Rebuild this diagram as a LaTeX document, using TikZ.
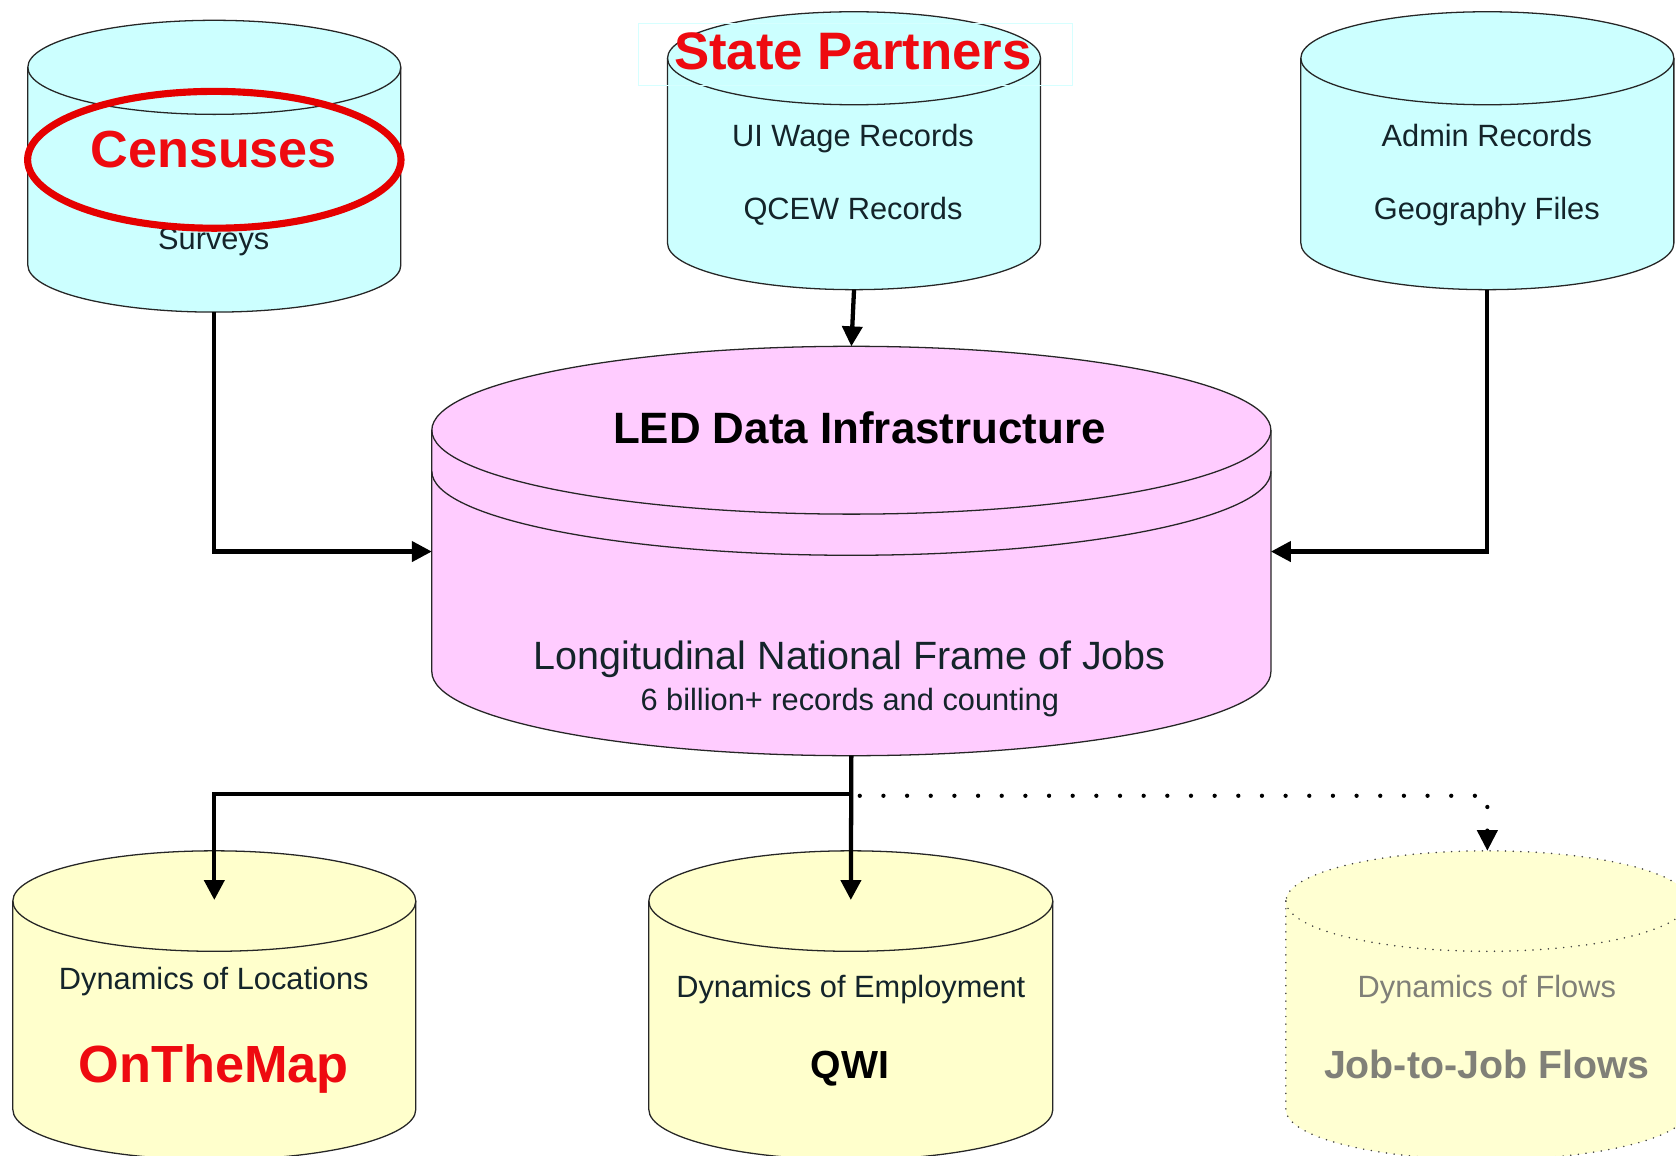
\documentclass[tikz,border=0pt]{standalone}
\usepackage{fontspec}
\setmainfont{Liberation Sans}
\usetikzlibrary{arrows.meta,shapes.geometric}
\definecolor{cyanfill}{HTML}{CCFFFF}
\definecolor{pinkfill}{HTML}{FFCCFF}
\definecolor{yellowfill}{HTML}{FFFFCC}
\definecolor{paleyellow}{HTML}{FFFFD2}
\definecolor{redtxt}{HTML}{EE0A10}
\definecolor{greytxt}{HTML}{808078}
\definecolor{inktxt}{HTML}{14242A}
\tikzset{
  x=.75pt,y=.75pt,
  cylline/.style={draw=black!85,line width=.9pt},
  cylcyan/.style={cylline,fill=cyanfill},
  cylpink/.style={cylline,fill=pinkfill},
  cylyellow/.style={cylline,fill=yellowfill},
  cyldot/.style={draw=black!75,line width=1.2pt,line cap=round,dash pattern=on 0pt off 5.4pt,fill=paleyellow},
  holder/.style={inner sep=0pt,outer sep=0pt},
  flow/.style={line width=3pt,-{Triangle[length=14pt,width=14pt]}},
  dotflow/.style={line width=3pt,line cap=round,dash pattern=on 0pt off 16.6pt,dash phase=10.7pt,-{Triangle[length=14.5pt,width=14pt]}},
  smalltxt/.style={font=\fontsize{21.6}{24}\selectfont,text=inktxt,inner sep=0pt},
  midtxt/.style={font=\fontsize{27.7}{30}\selectfont,text=inktxt,inner sep=0pt},
  bigtxt/.style={font=\fontsize{30.8}{34}\selectfont\bfseries,inner sep=0pt},
}
% name, centre x, x radius, top y, ellipse y radius, bottom y, style
\newcommand{\cylbody}[7]{%
  \path[#7] ({#2-#3},{-(#4+#5)}) -- ({#2-#3},{-(#6-#5)})
    arc[start angle=180,end angle=360,x radius=#3,y radius=#5]
    -- ({#2+#3},{-(#4+#5)})
    arc[start angle=0,end angle=180,x radius=#3,y radius=#5] -- cycle;
  \path[#7,fill=none] ({#2-#3},{-(#4+#5)})
    arc[start angle=180,end angle=360,x radius=#3,y radius=#5];
  \node[holder,minimum width={2*#3*.75pt},minimum height={(#6-#4)*.75pt}] (#1) at (#2,{-(#4+#6)/2}) {};
}
\begin{document}
\begin{tikzpicture}
\useasboundingbox (0,0) rectangle (1568,-1081.5);
\clip (0,0) rectangle (1568,-1081.5);
\cylbody{cens}{200.5}{174.5}{19}{44}{292}{cylcyan}
\cylbody{state}{799}{174.5}{11}{43.5}{271}{cylcyan}
\cylbody{admin}{1391.5}{174.5}{11}{43.5}{271}{cylcyan}
\cylbody{led}{796.5}{392.5}{324}{78.5}{707}{cylpink}
\path[cylline,fill=none] (404,-441) arc[start angle=180,end angle=360,x radius=392.5,y radius=78.5];
\cylbody{otm}{200.5}{188.5}{796}{47}{1085}{cylyellow}
\cylbody{qwi}{796}{189}{796}{47}{1085}{cylyellow}
\cylbody{flows}{1391.5}{188.5}{796}{47}{1085}{cyldot}
% pale frame of the State Partners label
\node[draw=cyanfill!80!white,line width=.6pt,inner sep=0pt,minimum width=304.5pt,minimum height=43.5pt] (statebox) at (800,-51) {};
% texts
\node[smalltxt] (surveys) at (200,-226) {Surveys};
\node[smalltxt] (ui) at (798,-130) {UI Wage Records};
\node[smalltxt] (qcew) at (798,-198) {QCEW Records};
\node[smalltxt] (adminrec) at (1391,-127) {Admin Records};
\node[smalltxt] (geo) at (1391,-198) {Geography Files};
\node[bigtxt,text=redtxt] (statetxt) at (798,-48) {\fontsize{37}{40}\selectfont State Partners};
\node[bigtxt,text=black] (ledtxt) at (804,-400) {LED Data Infrastructure};
\node[midtxt] (frame) at (795,-617) {Longitudinal National Frame of Jobs};
\node[smalltxt] (billion) at (795,-657) {6 billion+ records and counting};
\node[smalltxt] (doloc) at (200,-918) {Dynamics of Locations};
\node[bigtxt,text=redtxt] (otmtxt) at (200,-1000) {\fontsize{36.7}{40}\selectfont OnTheMap};
\node[smalltxt] (doemp) at (796,-926) {Dynamics of Employment};
\node[bigtxt,text=black] (qwitxt) at (795,-1000) {\fontsize{27.5}{30}\selectfont QWI};
\node[smalltxt,text=greytxt] (doflo) at (1391,-926) {Dynamics of Flows};
\node[bigtxt,text=greytxt] (jjtxt) at (1391,-996) {\fontsize{27.6}{30}\selectfont Job-to-Job Flows};
% red ring
\node[bigtxt,text=redtxt] (censtxt) at (200,-140) {\fontsize{36.6}{40}\selectfont Censuses};
\node[draw=red!90!black,line width=5pt,ellipse,inner sep=0pt,minimum width=262pt,minimum height=96pt] (ring) at (200.5,-149.5) {};
% connector points
\coordinate (ledW) at (404,-516);
\coordinate (ledE) at (1189,-516);
\coordinate (branch) at (796.5,-743);
\coordinate (dotStart) at (796.5,-744.5);
\coordinate (otmIn) at (200.5,-842);
\coordinate (qwiIn) at (796,-842);
% connectors
\draw[flow] (state.south) -- (led.north);
\draw[flow] (cens.south) |- (ledW);
\draw[flow] (admin.south) |- (ledE);
\draw[flow] (led.south) -- (qwiIn);
\draw[flow] (branch) -| (otmIn);
\draw[dotflow] (dotStart) -| (flows.north);
\end{tikzpicture}
\end{document}
